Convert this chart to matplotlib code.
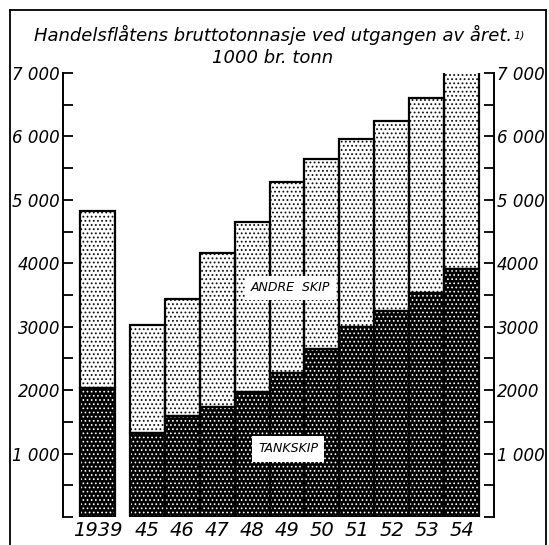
import matplotlib
matplotlib.use("Agg")
import matplotlib.pyplot as plt
import matplotlib.lines as mlines
from matplotlib.ticker import MultipleLocator, FixedLocator

# data (1000 br. tonn)
years = ["1939", "45", "46", "47", "48", "49", "50", "51", "52", "53", "54"]
tankskip = [2035, 1325, 1593, 1735, 1972, 2271, 2650, 2997, 3249, 3533, 3912]
totalt = [4826, 3028, 3438, 4164, 4653, 5284, 5647, 5962, 6246, 6609, 7035]
andre_skip = [t - k for t, k in zip(totalt, tankskip)]

left_ticks = [1000, 2000, 3000, 4000, 5000, 6000, 7000]
left_labels = ["1 000", "2000", "3000", "4000", "5 000", "6 000", "7 000"]

plt.rcParams["font.family"] = "DejaVu Sans"

W, H = 549, 545
fig = plt.figure(figsize=(W / 100, H / 100), dpi=100)
ax = fig.add_axes((63 / W, 28 / H, (494 - 63) / W, (517 - 73) / H))

# 1939 stands alone, then the post-war years side by side
xpos = [0.0] + [1.43 + i for i in range(len(years) - 1)]

with plt.rc_context({"hatch.linewidth": 0.7}):
    ax.bar(xpos, tankskip, width=1.0, color="#000000", edgecolor="white",
           hatch="....", linewidth=0)
with plt.rc_context({"hatch.linewidth": 0.8}):
    ax.bar(xpos, andre_skip, width=1.0, bottom=tankskip, color="white",
           edgecolor="#111111", hatch="....", linewidth=0)
# outlines
ax.bar(xpos, tankskip, width=1.0, fill=False, edgecolor="black", linewidth=1.6)
ax.bar(xpos, andre_skip, width=1.0, bottom=tankskip, fill=False,
       edgecolor="black", linewidth=1.6)

ax.set_xlim(-0.99, 11.36)
ax.set_ylim(0, 7000)

ax.spines["top"].set_visible(False)
ax.spines["bottom"].set_visible(False)
ax.spines["left"].set_linewidth(1.4)
ax.spines["right"].set_linewidth(1.4)

ax.set_xticks(xpos)
ax.set_xticklabels(years, fontsize=14, style="italic")
ax.tick_params(axis="x", length=0, pad=3)

ax.yaxis.set_major_locator(FixedLocator(left_ticks))
ax.yaxis.set_minor_locator(MultipleLocator(500))
ax.set_yticklabels(left_labels, fontsize=12, style="italic")
ax.tick_params(axis="y", which="both", direction="in", length=7, width=1.3,
               left=True, right=True, labelleft=True, labelright=True, pad=2)

ax.text(5.52, 3612, "ANDRE  SKIP", fontsize=9, style="italic",
        ha="center", va="center",
        bbox=dict(boxstyle="square,pad=0.45", fc="white", ec="none"))
ax.text(5.46, 1073, "TANKSKIP", fontsize=9, style="italic",
        ha="center", va="center",
        bbox=dict(boxstyle="square,pad=0.5", fc="white", ec="none"))

title = fig.text(0.497, 1 - 35 / H,
                 "Handelsflåtens bruttotonnasje ved utgangen av året.",
                 fontsize=13, style="italic", ha="center", va="center")
ax.annotate("1)", xy=(1, 1), xycoords=title, xytext=(1, -4),
            textcoords="offset points", fontsize=8, style="italic",
            ha="left", va="top", annotation_clip=False)
fig.text(0.497, 1 - 58 / H, "1000 br. tonn", fontsize=13, style="italic",
         ha="center", va="center")

# outer frame (open at the bottom)
for xs, ys in [([10, 10], [0, H - 10]), ([10, 546], [H - 10, H - 10]),
               ([546, 546], [H - 10, 0])]:
    fig.add_artist(mlines.Line2D([x / W for x in xs], [y / H for y in ys],
                                 color="black", linewidth=1.3))

fig.savefig("out.png", dpi=100)
